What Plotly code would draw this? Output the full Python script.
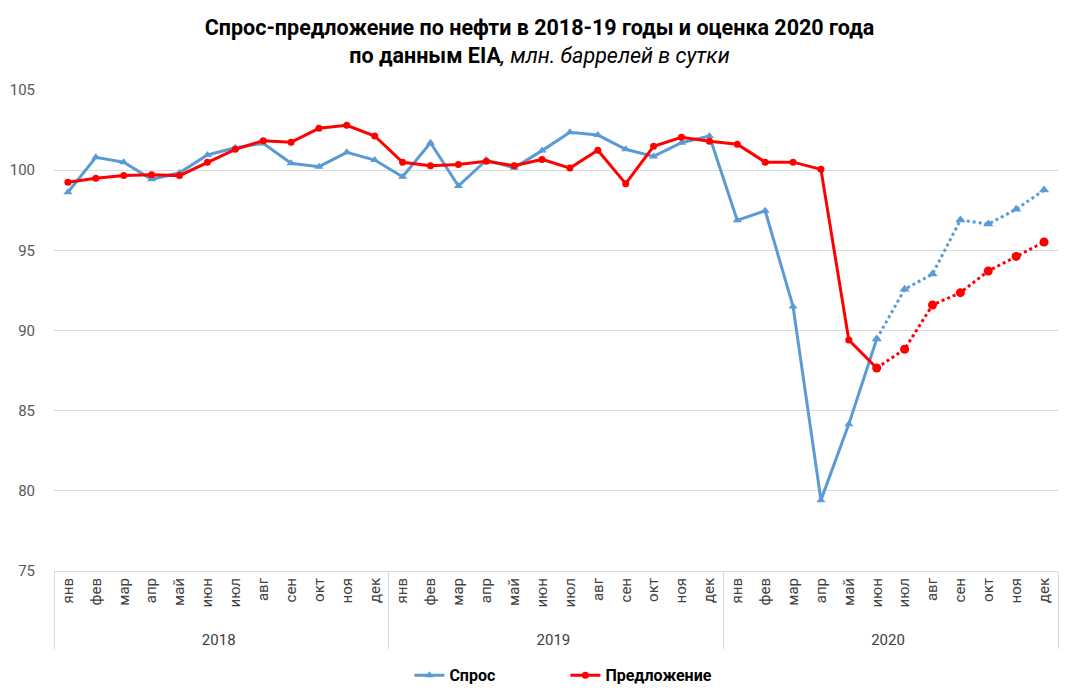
import plotly.graph_objects as go

years = ["2018"] * 12 + ["2019"] * 12 + ["2020"] * 12
month_names = ["янв", "фев", "мар", "апр", "май", "июн", "июл", "авг", "сен", "окт", "ноя", "дек"]
months = month_names * 3

demand = [98.62, 100.8, 100.5, 99.43, 99.84, 100.95, 101.4, 101.67, 100.43, 100.22, 101.11, 100.63,
          99.59, 101.71, 99.01, 100.63, 100.15, 101.22, 102.36, 102.19, 101.3, 100.86, 101.71, 102.13,
          96.87, 97.47, 91.5, 79.42, 84.16, 89.47, 92.57, 93.52, 96.89, 96.64, 97.56, 98.76]
supply = [99.24, 99.49, 99.66, 99.72, 99.66, 100.49, 101.3, 101.84, 101.74, 102.61, 102.8, 102.13,
          100.49, 100.28, 100.36, 100.55, 100.28, 100.67, 100.13, 101.24, 99.16, 101.49, 102.05, 101.8,
          101.62, 100.5, 100.5, 100.05, 89.4, 87.66, 88.83, 91.59, 92.36, 93.71, 94.62, 95.52]

n_actual = 30  # up to июн 2020 solid, forecast dotted from июн 2020

blue = "#5B9BD5"
red = "#FF0000"
font_family = "Roboto, 'Open Sans', sans-serif"

pad = "\u00a0\u00a0"
month_labels = [pad + m for m in months]

fig = go.Figure()

# actual (solid) parts
fig.add_trace(go.Scatter(
    x=[years[:n_actual], month_labels[:n_actual]], y=demand[:n_actual], name="Спрос",
    mode="lines+markers", line=dict(color=blue, width=3),
    marker=dict(symbol="triangle-up", size=8, color=blue)))
fig.add_trace(go.Scatter(
    x=[years[:n_actual], month_labels[:n_actual]], y=supply[:n_actual], name="Предложение",
    mode="lines+markers", line=dict(color=red, width=3),
    marker=dict(symbol="circle", size=7, color=red)))

# forecast (dotted) parts
fig.add_trace(go.Scatter(
    x=[years[n_actual - 1:], month_labels[n_actual - 1:]], y=demand[n_actual - 1:],
    mode="lines+markers", line=dict(color=blue, width=3, dash="dot"),
    marker=dict(symbol="triangle-up", size=9, color=blue), showlegend=False, hoverinfo="y"))
fig.add_trace(go.Scatter(
    x=[years[n_actual - 1:], month_labels[n_actual - 1:]], y=supply[n_actual - 1:],
    mode="lines+markers", line=dict(color=red, width=3, dash="dot"),
    marker=dict(symbol="circle", size=9, color=red), showlegend=False, hoverinfo="y"))

fig.update_layout(
    width=1079, height=694,
    margin=dict(l=54, r=21, t=90, b=123, autoexpand=False),
    paper_bgcolor="white", plot_bgcolor="white",
    font=dict(family=font_family, size=15, color="#595959"),
    title=dict(
        text="<b>Спрос-предложение по нефти в 2018-19 годы и оценка 2020 года</b><br>"
             "<b>по данным EIA</b><i>, млн. баррелей в сутки</i>",
        x=0.5, xanchor="center", xref="container", yref="container", y=0.95, yanchor="middle",
        font=dict(family=font_family, size=21.5, color="#000000")),
    legend=dict(orientation="h", xref="container", x=0.524, xanchor="center",
                yref="container", y=0.027, yanchor="middle",
                font=dict(size=16, color="#000000", weight="bold"), entrywidth=111,
                traceorder="normal"),
    showlegend=True,
)
fig.update_xaxes(
    type="multicategory", tickangle=-90, showgrid=False, automargin=False,
    range=[-0.5, 35.5],
    showline=True, linecolor="#D9D9D9", linewidth=1,
    showdividers=True, dividercolor="#D9D9D9", dividerwidth=1,
    ticks="", tickfont=dict(size=15, color="#404040"))
fig.update_yaxes(
    range=[75, 105], dtick=5, showgrid=True, gridcolor="#D9D9D9", gridwidth=1,
    automargin=False, ticklabelstandoff=18,
    zeroline=False, showline=False, ticks="", tickfont=dict(size=15, color="#595959"))

fig.write_html("out.html", config={"displayModeBar": False},
               post_script="document.body.style.margin='0px';")
